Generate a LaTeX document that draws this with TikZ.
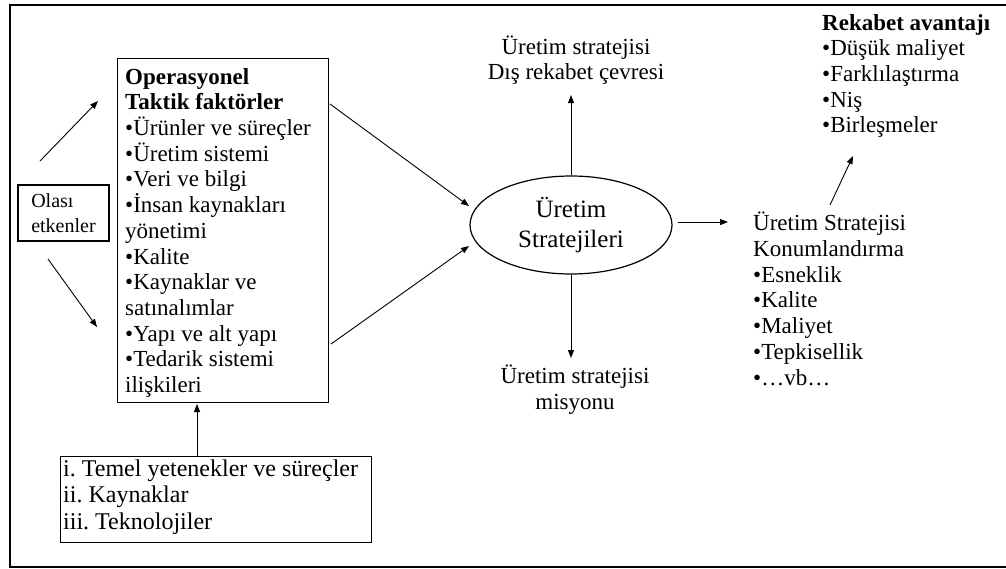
\documentclass[tikz,border=0pt]{standalone}
\usepackage{fontspec}
\setmainfont{Liberation Serif}
\frenchspacing
\usetikzlibrary{shapes.geometric,arrows.meta}
\begin{document}
\begin{tikzpicture}[x=1pt,y=-1pt,
  txt/.style={font=\fontsize{23}{25.7}\selectfont, inner sep=0pt, align=left},
  ctxt/.style={font=\fontsize{23}{25.7}\selectfont, inner sep=0pt, align=center},
  boxed/.style={draw, line width=1.2pt},
  arr/.style={-{Triangle[length=8pt,width=6pt]}, line width=0.9pt}]
\useasboundingbox (0,0) rectangle (1006,568);
% frame (open on the right)
\draw[line width=2pt] (1006,5) -- (10,5) -- (10,567) -- (1006,567);

% left: possible influences
\node[boxed, minimum width=91pt, minimum height=56pt, font=\fontsize{20}{25}\selectfont, align=left, inner sep=0pt] (ola) at (63.5,213) {Olası\\etkenler};
\coordinate (olaT) at (40,161);
\coordinate (olaB) at (48,259);

% operational tactical factors
\node[boxed, minimum width=211pt, minimum height=344pt, anchor=north west] (ops) at (117,58) {};
\node[txt, anchor=north west] (opstxt) at (125,68) {\textbf{Operasyonel}\\\textbf{Taktik faktörler}\\•Ürünler ve süreçler\\•Üretim sistemi\\•Veri ve bilgi\\•İnsan kaynakları\\yönetimi\\•Kalite\\•Kaynaklar ve\\satınalımlar\\•Yapı ve alt yapı\\•Tedarik sistemi\\ilişkileri};
\coordinate (opsIn1) at (98,101);
\coordinate (opsIn2) at (97,327);
\coordinate (opsOut1) at (330,104);
\coordinate (opsOut2) at (331,344);

% core capabilities
\node[boxed, minimum width=311pt, minimum height=86pt, anchor=north west] (core) at (60,456) {};
\node[txt, font=\fontsize{24}{26.5}\selectfont, anchor=west] (coretxt) at (63,497) {i. Temel yetenekler ve süreçler\\ii. Kaynaklar\\iii. Teknolojiler};

% central ellipse
\node[draw, ellipse, line width=1.2pt, minimum width=202pt, minimum height=98pt, inner sep=0pt,
      font=\fontsize{25}{30}\selectfont, align=center] (str) at (571,225) {Üretim\\Stratejileri};
\coordinate (strL1) at (469,206);
\coordinate (strL2) at (469,246);

% outward texts
\node[ctxt] (env) at (576,60) {Üretim stratejisi\\Dış rekabet çevresi};
\node[ctxt] (mis) at (575,390) {Üretim stratejisi\\misyonu};
\coordinate (envIn) at (571,95);
\coordinate (misIn) at (571,358);

\node[txt, anchor=north west] (pos) at (753,212) {Üretim Stratejisi\\Konumlandırma\\•Esneklik\\•Kalite\\•Maliyet\\•Tepkisellik\\•…vb…};
\coordinate (posIn) at (728,222);
\coordinate (posOut) at (830,205);

\node[txt, anchor=north west] (adv) at (822,14) {\textbf{Rekabet avantajı}\\•Düşük maliyet\\•Farklılaştırma\\•Niş\\•Birleşmeler};
\coordinate (advIn) at (853,156);

% connectors
\draw[arr] (olaT) -- (opsIn1);
\draw[arr] (olaB) -- (opsIn2);
\draw[arr] (opsOut1) -- (strL1);
\draw[arr] (opsOut2) -- (strL2);
\draw[arr] (core.north -| 197,0) -- (197,404);
\draw[arr] (str.north) -- (envIn);
\draw[arr] (str.south) -- (misIn);
\draw[arr] (str.east) ++(5,-3) -- (posIn);
\draw[arr] (posOut) -- (advIn);
\end{tikzpicture}
\end{document}
